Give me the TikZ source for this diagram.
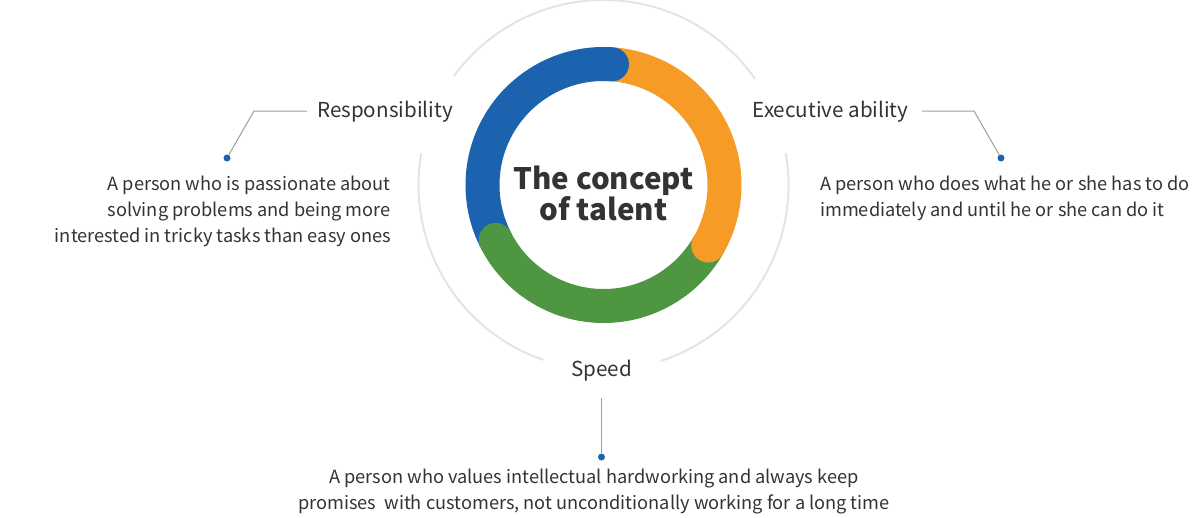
\documentclass[tikz,border=0pt]{standalone}
\usepackage{fontspec}
\setmainfont{Noto Sans CJK KR}
\definecolor{bleu}{HTML}{1B63AE}
\definecolor{orange}{HTML}{F59B26}
\definecolor{vert}{HTML}{4F9643}
\definecolor{gris}{HTML}{9E9E9E}
\definecolor{grisclair}{HTML}{E4E4E4}
\definecolor{texte}{HTML}{333333}
\begin{document}
\begin{tikzpicture}[x=1pt,y=-1pt,
    titre/.style={font=\fontsize{20.6}{24}\selectfont,text=texte,inner sep=0pt},
    desc/.style={font=\fontsize{18.2}{26}\selectfont,text=texte,inner sep=0pt},
    point/.style={circle,fill=bleu,inner sep=0pt,minimum size=7pt},
    trait/.style={draw=gris,line width=1pt}]

\useasboundingbox (0,0) rectangle (1200,517);
\coordinate (c) at (603.5,185);

% Cercle extérieur
\draw[grisclair,line width=2pt] (c) ++(35:185pt) arc[start angle=35,end angle=144,radius=185pt];
\draw[grisclair,line width=2pt] (c) ++(170:185pt) arc[start angle=170,end angle=251,radius=185pt];
\draw[grisclair,line width=2pt] (c) ++(-72:185pt) arc[start angle=-72,end angle=10,radius=185pt];

% Anneau
\draw[bleu,line width=34pt] (c) ++(86:121pt) arc[start angle=86,end angle=207,radius=121pt];
\draw[vert,line width=34pt] (c) ++(207:121pt) arc[start angle=207,end angle=330,radius=121pt];
\draw[orange,line width=34pt] (c) ++(-30:121pt) arc[start angle=-30,end angle=86,radius=121pt];

% Bouts arrondis
\fill[bleu] (c) ++(86:121pt) circle[radius=17pt];
\fill[vert] (c) ++(207:121pt) circle[radius=17pt];
\fill[orange] (c) ++(-30:121pt) circle[radius=17pt];

\node[font=\fontsize{29.5}{31}\selectfont\bfseries,text=texte,align=center,inner sep=0pt]
(centre) at (603.5,193) {The concept\\of talent};

% Libellés
\node[titre] (resp) at (385,112) {Responsibility};
\node[titre] (exec) at (830.5,112) {Executive ability};
\node[titre] (speed) at (601.5,371) {Speed};

% Points
\node[point] (pR) at (227,158) {};
\node[point] (pE) at (1001,158) {};
\node[point] (pS) at (601.5,457) {};

\coordinate (r1) at (307,111);
\coordinate (r2) at (254,111);
\coordinate (e1) at (922,111);
\coordinate (e2) at (974,111);
\coordinate (s1) at (601.5,398);

\draw[trait] (pR) -- (r2) -- (r1);
\draw[trait] (pE) -- (e2) -- (e1);
\draw[trait] (pS) -- (s1);

% Descriptions
\node[desc,align=right,anchor=north east] (dR) at (391,176)
{A person who is passionate about\\solving problems and being more\\interested in tricky tasks than easy ones};
\node[desc,align=left,anchor=north west] (dE) at (820,176)
{A person who does what he or she has to do\\immediately and until he or she can do it};
\node[desc,align=center,anchor=north] (dS) at (594,469)
{A person who values intellectual hardworking and always keep\\promises\ \ with customers, not unconditionally working for a long time};

\end{tikzpicture}
\end{document}
